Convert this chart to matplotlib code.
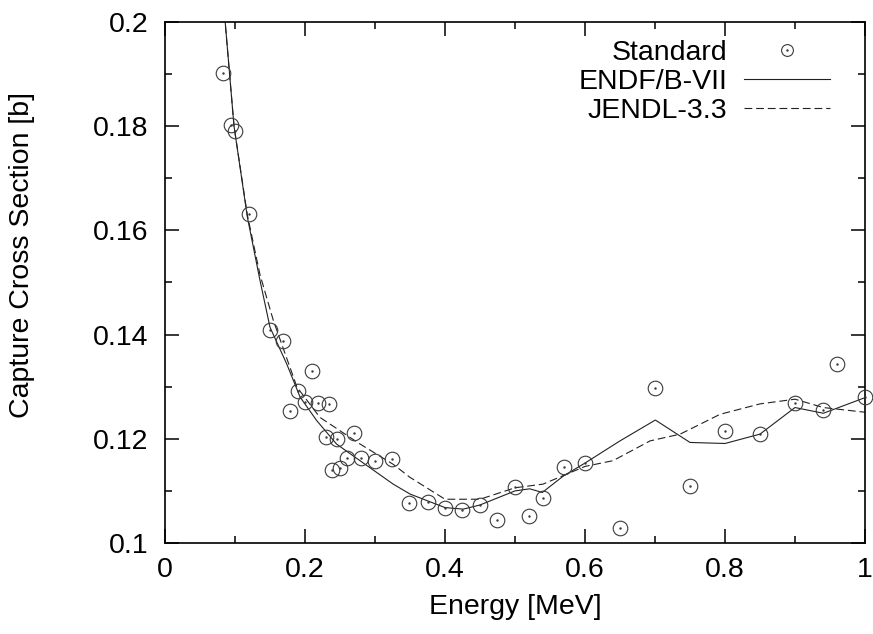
import matplotlib
matplotlib.use("Agg")
import matplotlib.pyplot as plt
from matplotlib.lines import Line2D
from matplotlib.ticker import MultipleLocator

plt.rcParams['font.family'] = ['Liberation Sans', 'DejaVu Sans']

# Standard data points
std_x = [0.0833, 0.094, 0.100, 0.1195, 0.1505, 0.169, 0.179, 0.1895, 0.1995, 0.2095,
         0.219, 0.2295, 0.2348, 0.239, 0.2457, 0.250, 0.2595, 0.270, 0.280, 0.3005,
         0.3248, 0.349, 0.3753, 0.400, 0.4248, 0.450, 0.4748, 0.500, 0.520, 0.5395,
         0.5695, 0.5995, 0.650, 0.7005, 0.750, 0.800, 0.850, 0.900, 0.9405, 0.9605, 1.000]
std_y = [0.1902, 0.1802, 0.1790, 0.1632, 0.1409, 0.1388, 0.1254, 0.1292, 0.1270, 0.1330,
         0.1269, 0.1203, 0.1267, 0.1140, 0.1199, 0.1143, 0.1164, 0.1211, 0.1163, 0.1158,
         0.1161, 0.1076, 0.1078, 0.1067, 0.1063, 0.1072, 0.1044, 0.1108, 0.1051, 0.1087,
         0.1146, 0.1153, 0.1028, 0.1297, 0.1109, 0.1215, 0.1210, 0.1269, 0.1255, 0.1343, 0.1281]

# ENDF/B-VII curve
endf_x = [0.085, 0.0986, 0.1176, 0.1357, 0.150, 0.1738, 0.193, 0.2167, 0.245, 0.2786,
          0.326, 0.350, 0.400, 0.426, 0.450, 0.500, 0.521, 0.539, 0.5695, 0.5995,
          0.650, 0.7005, 0.750, 0.800, 0.850, 0.900, 0.9405, 1.000]
endf_y = [0.2015, 0.1800, 0.1626, 0.1504, 0.1414, 0.1344, 0.1280, 0.1235, 0.1190, 0.1158,
          0.1113, 0.1094, 0.1068, 0.1065, 0.1073, 0.1100, 0.1104, 0.1097, 0.1129, 0.1153,
          0.1196, 0.1236, 0.1193, 0.1191, 0.1209, 0.1260, 0.1249, 0.1279]

# JENDL-3.3 curve
jendl_x = [0.085, 0.0986, 0.1176, 0.1357, 0.1548, 0.1886, 0.2214, 0.2786, 0.326, 0.350,
           0.400, 0.450, 0.500, 0.540, 0.600, 0.640, 0.693, 0.736, 0.7929, 0.850,
           0.900, 0.9405, 1.000]
jendl_y = [0.2015, 0.1800, 0.1630, 0.1515, 0.1427, 0.1299, 0.1241, 0.1190, 0.1151, 0.1126,
           0.1084, 0.1084, 0.1106, 0.1113, 0.1147, 0.1158, 0.1196, 0.1209, 0.1247, 0.1267,
           0.1276, 0.1260, 0.1251]

x_ticks = [0, 0.2, 0.4, 0.6, 0.8, 1.0]
x_ticklabels = ['0', '0.2', '0.4', '0.6', '0.8', '1']
y_ticks = [0.10, 0.12, 0.14, 0.16, 0.18, 0.20]
y_ticklabels = ['0.1', '0.12', '0.14', '0.16', '0.18', '0.2']

FS = 20.5
LINE_C = '#222222'
MARK_C = '#3a3a3a'

fig = plt.figure(figsize=(8.73, 6.34), dpi=100)
ax = fig.add_axes([165/873, 1-543/634, 700/873, 521/634])

ax.plot(endf_x, endf_y, '-', color=LINE_C, lw=0.8)
ax.plot(jendl_x, jendl_y, color=LINE_C, lw=0.8, dashes=(7, 3.5))
ax.plot(std_x, std_y, 'o', mfc='none', mec=MARK_C, mew=0.8, ms=10.5, clip_on=False, zorder=3)
ax.plot(std_x, std_y, '.', color=MARK_C, ms=1.5, clip_on=False, zorder=3)

ax.set_xlim(0, 1)
ax.set_ylim(0.1, 0.2)
ax.set_xticks(x_ticks)
ax.set_xticklabels(x_ticklabels)
ax.set_yticks(y_ticks)
ax.set_yticklabels(y_ticklabels)
ax.xaxis.set_minor_locator(MultipleLocator(0.1))
ax.yaxis.set_minor_locator(MultipleLocator(0.01))
ax.tick_params(which='both', direction='in', top=True, right=True, width=1.1, labelsize=FS)
ax.tick_params(which='major', length=10)
ax.tick_params(which='minor', length=5)
ax.tick_params(axis='x', pad=10)
ax.tick_params(axis='y', pad=12)
for s in ax.spines.values():
    s.set_linewidth(1.2)

ax.set_xlabel('Energy [MeV]', fontsize=FS, labelpad=8)
ax.set_ylabel('Capture Cross Section [b]', fontsize=FS)
ax.yaxis.set_label_coords(-0.186, 0.553)

h_std = (Line2D([], [], marker='o', ls='none', mfc='none', mec=MARK_C, mew=0.8, ms=8.5),
         Line2D([], [], marker='.', ls='none', color=MARK_C, ms=1.5))
h_endf = Line2D([], [], ls='-', color=LINE_C, lw=0.8)
h_jendl = Line2D([], [], color=LINE_C, lw=0.8, dashes=(7, 3.5))
leg = ax.legend([h_std, h_endf, h_jendl], ['Standard', 'ENDF/B-VII', 'JENDL-3.3'],
                loc='upper right', bbox_to_anchor=(0.978, 1.004), frameon=False,
                markerfirst=False, fontsize=FS, handlelength=3.0, labelspacing=0.1,
                handletextpad=0.6, borderpad=0.2)
for t in leg.get_texts():
    t.set_ha('right')

fig.savefig('out.png', dpi=100)
